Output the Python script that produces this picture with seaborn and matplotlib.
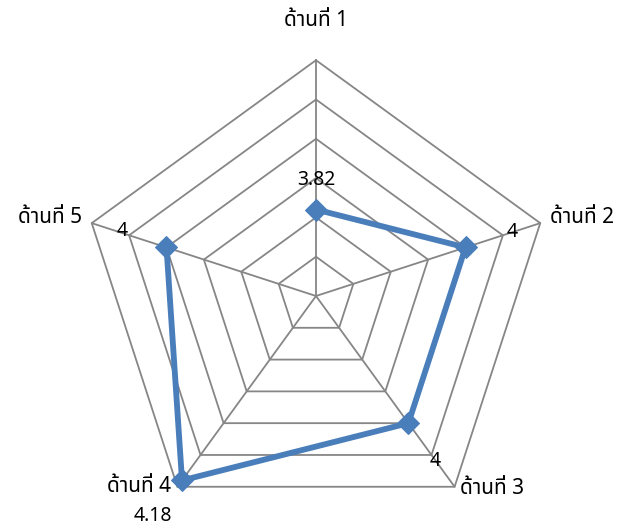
import numpy as np
import pandas as pd
import matplotlib
matplotlib.use("Agg")
import matplotlib.pyplot as plt
import seaborn as sns

# ข้อมูล
categories = ["ด้านที่ 1", "ด้านที่ 2", "ด้านที่ 3", "ด้านที่ 4", "ด้านที่ 5"]
values = [3.82, 4, 4, 4.18, 4]
value_labels = ["3.82", "4", "4", "4.18", "4"]
r_min, r_max, r_step = 3.6, 4.2, 0.1

sns.set_theme(style="white")
plt.rcParams['font.family'] = ['Noto Sans Thai', 'Tahoma', 'Noto Sans', 'DejaVu Sans']

scale = 393.0  # px per unit
n = len(categories)
angles = np.arange(n) * 2 * np.pi / n


def xy(v, a):
    r = (v - r_min) * scale
    return r * np.sin(a), r * np.cos(a)


fig = plt.figure(figsize=(6.22, 5.27), dpi=100)
ax = fig.add_axes([0, 0, 1, 1])
ax.set_xlim(-316, 306)
ax.set_ylim(-231, 296)
ax.set_aspect("equal")
ax.axis("off")

grid_col = "#868686"
levels = np.arange(r_min + r_step, r_max + r_step / 2, r_step)
for lv in levels:
    gx, gy = xy(lv, np.append(angles, angles[0]))
    ax.plot(gx, gy, color=grid_col, lw=1.3, zorder=1)
for a in angles:
    sx, sy = xy(np.array([r_min, r_max]), a)
    ax.plot(sx, sy, color=grid_col, lw=1.3, zorder=1)

px, py = xy(np.array(values), angles)
df = pd.DataFrame({"x": np.append(px, px[0]), "y": np.append(py, py[0])})
sns.lineplot(data=df, x="x", y="y", sort=False, color="#4a7ebb", lw=4.2,
             marker="D", markersize=11, markeredgecolor="#4a7ebb", ax=ax, zorder=3)

# ป้ายค่า
val_off = [(0, 30), (47, 15), (27, -38), (-29, -36), (-44, 16)]
for i, t in enumerate(value_labels):
    ax.text(px[i] + val_off[i][0], py[i] + val_off[i][1], t, fontsize=14,
            ha="center", va="center", color="black")

# ป้ายหมวด
cat_off = [(0, 40, "center"), (10, 6, "left"), (5, -2, "left"),
           (-6, 0, "right"), (-10, 6, "right")]
for i, c in enumerate(categories):
    ox, oy = xy(r_max, angles[i])
    dx, dy, ha = cat_off[i]
    ax.text(ox + dx, oy + dy, c, fontsize=15,
            ha=ha, va="center", color="black")

fig.savefig("out.png", dpi=100)
